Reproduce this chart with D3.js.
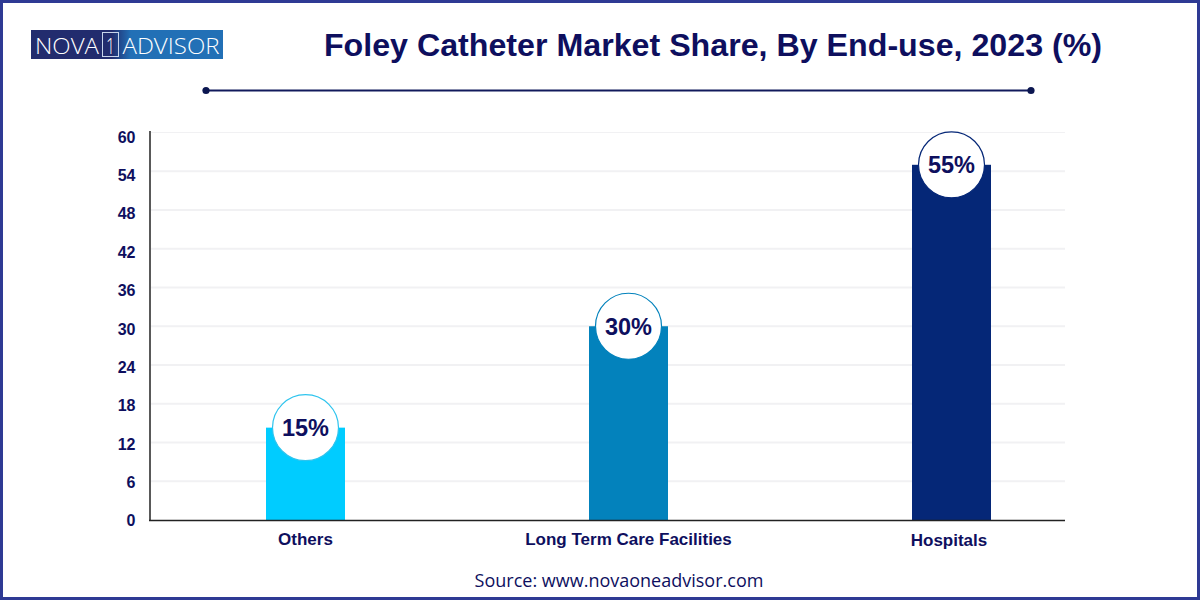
<!DOCTYPE html>
<html><head><meta charset="utf-8">
<script src="https://cdn.jsdelivr.net/npm/d3@7"></script>
<style>html,body{margin:0;padding:0;background:#fff}svg{display:block}</style>
</head><body><svg id="c" width="1200" height="600" font-family="'Liberation Sans',Arial,sans-serif"></svg>
<script>
const categories = ["Others","Long Term Care Facilities","Hospitals"];
const values = [14.3,30,55];
const valueLabels = ["15%","30%","55%"];
const barColors = ["#00CCFF","#0382BC","#052777"];
const ringColors = ["#2EC4EE","#0382BC","#052777"];
const yTicks = [0,6,12,18,24,30,36,42,48,54,60];
const titleText = "Foley Catheter Market Share, By End-use, 2023 (%)";
const sourceText = "Source: www.novaoneadvisor.com";
const navy = "#0E0F5E";

const svg = d3.select("#c");
svg.append("rect").attr("x",1.5).attr("y",1.5).attr("width",1197).attr("height",597).attr("fill","#fff").attr("stroke","#2E3A94").attr("stroke-width",3);

const defs = svg.append("defs");
const g = defs.append("linearGradient").attr("id","logo");
g.append("stop").attr("offset","0.42").attr("stop-color","#222C6E");
g.append("stop").attr("offset","0.52").attr("stop-color","#2270B6");
g.append("stop").attr("offset","1").attr("stop-color","#2270B6");
svg.append("rect").attr("x",31).attr("y",30).attr("width",192).attr("height",29).attr("fill","url(#logo)");
const logoText = (s,x,w)=>svg.append("text").attr("x",x).attr("y",53.5).attr("font-size",22).attr("fill","#fff")
  .attr("font-family","'Open Sans',sans-serif").attr("font-weight",300).attr("textLength",w).attr("lengthAdjust","spacingAndGlyphs").text(s);
logoText("NOVA",35,64);
svg.append("rect").attr("x",102.5).attr("y",32.5).attr("width",16).attr("height",24).attr("fill","none").attr("stroke","#C8D4EA").attr("stroke-width",1);
logoText("1",106,9);
logoText("ADVISOR",122.5,97);

svg.append("text").attr("x",713).attr("y",55.5).attr("text-anchor","middle").attr("font-size",32.2).attr("font-weight",700).attr("fill",navy).text(titleText);
svg.append("line").attr("x1",206).attr("x2",1031).attr("y1",90.5).attr("y2",90.5).attr("stroke","#111A5C").attr("stroke-width",2);
[206,1031].forEach(x=>svg.append("circle").attr("cx",x).attr("cy",90.5).attr("r",3.6).attr("fill","#0B1650"));

const y = d3.scaleLinear().domain([0,60]).range([520,132.5]);
const yLabel = d3.scaleLinear().domain([0,60]).range([520,136.5]);
const x = d3.scalePoint().domain(categories).range([305.5,951.5]);
const barW = 79;

const grid = svg.append("g");
grid.selectAll("line").data(yTicks.filter(d=>d>0)).join("line")
  .attr("x1",151).attr("x2",1065).attr("y1",d=>y(d)).attr("y2",d=>y(d))
  .attr("stroke","#F1F1F3").attr("stroke-width",d=>d===60?1:2);

const yAxis = d3.axisLeft(yLabel).tickValues(yTicks).tickSize(0).tickPadding(0);
const ya = svg.append("g").attr("transform","translate(135.5,0)").call(yAxis);
ya.select(".domain").remove();
ya.selectAll("text").attr("font-size",16).attr("font-weight",700).attr("fill",navy).attr("font-family","'Liberation Sans',sans-serif").attr("dy","0.36em");

svg.selectAll("rect.bar").data(categories).join("rect").attr("class","bar")
  .attr("x",d=>x(d)-barW/2).attr("width",barW)
  .attr("y",(d,i)=>y(values[i])).attr("height",(d,i)=>y(0)-y(values[i]))
  .attr("fill",(d,i)=>barColors[i]);

svg.append("line").attr("x1",150).attr("x2",150).attr("y1",131).attr("y2",521).attr("stroke","#222").attr("stroke-width",1.5);
svg.append("line").attr("x1",149).attr("x2",1065).attr("y1",520.5).attr("y2",520.5).attr("stroke","#222").attr("stroke-width",1.5);

svg.selectAll("circle.v").data(categories).join("circle").attr("class","v")
  .attr("cx",d=>x(d)).attr("cy",(d,i)=>y(values[i])).attr("r",33)
  .attr("fill","#fff").attr("stroke",(d,i)=>ringColors[i]).attr("stroke-width",1.2);
svg.selectAll("text.v").data(categories).join("text").attr("class","v")
  .attr("x",d=>x(d)).attr("y",(d,i)=>y(values[i])+8.5).attr("text-anchor","middle")
  .attr("font-size",23.5).attr("font-weight",700).attr("fill",navy).text((d,i)=>valueLabels[i]);

svg.selectAll("text.c").data(categories).join("text").attr("class","c")
  .attr("x",(d,i)=>x(d)-(i===2?2.5:0)).attr("y",(d,i)=>i===2?546:544.5).attr("text-anchor","middle")
  .attr("font-size",17).attr("font-weight",700).attr("fill",navy).text(d=>d);

svg.append("text").attr("x",619).attr("y",587).attr("text-anchor","middle").attr("font-size",18).attr("fill",navy)
  .attr("font-family","'Open Sans',sans-serif").attr("font-weight",500).text(sourceText);
</script></body></html>
